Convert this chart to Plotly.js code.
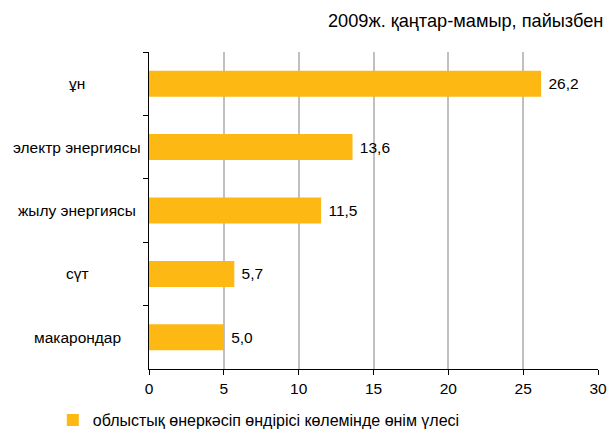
<!DOCTYPE html>
<html>
<head>
<meta charset="utf-8">
<script src="https://cdn.plot.ly/plotly-3.0.1.min.js"></script>
<style>body{margin:0;background:#fff}#chart{width:607px;height:437px}</style>
</head>
<body>
<div id="chart"></div>
<script>
const categories = ["ұн", "электр энергиясы", "жылу энергиясы", "сүт", "макарондар"];
const values = [26.2, 13.6, 11.5, 5.7, 5.0];
const seriesName = "облыстық өнеркәсіп өндірісі көлемінде өнім үлесі";
const titleText = "2009ж. қаңтар-мамыр, пайызбен";
const xTicks = [0, 5, 10, 15, 20, 25, 30];

const fam = "Liberation Sans, Arial, sans-serif";
const fs = 15.5;

const trace = {
  type: "bar",
  orientation: "h",
  y: categories,
  x: values,
  name: seriesName,
  marker: {color: "#FDB813"},
  texttemplate: " %{x:.1f}",
  textposition: "outside",
  textfont: {family: fam, size: fs, color: "#000"},
  cliponaxis: false,
  showlegend: true,
  hoverinfo: "none"
};

const annotations = categories.map(c => ({
  xref: "paper", yref: "y", x: -0.16, y: c, text: c,
  showarrow: false, xanchor: "center", yanchor: "middle",
  font: {family: fam, size: fs, color: "#000"}
}));
annotations.push({
  xref: "paper", yref: "paper", x: 1.015, y: 1.097, text: titleText,
  showarrow: false, xanchor: "right", yanchor: "middle",
  font: {family: fam, size: 18.2, color: "#000"}
});

const layout = {
  width: 607, height: 437,
  margin: {l: 149, r: 9, t: 52, b: 68},
  paper_bgcolor: "#fff", plot_bgcolor: "#fff",
  font: {family: fam, size: fs, color: "#000"},
  separators: ", ",
  bargap: 0.59,
  xaxis: {
    range: [0, 30], tickvals: xTicks, ticktext: xTicks.map(String),
    showgrid: true, gridcolor: "#C0C0C0", gridwidth: 2,
    zeroline: false, showline: true, linecolor: "#000", linewidth: 1,
    ticks: "outside", ticklen: 5, tickcolor: "#000",
    tickfont: {family: fam, size: fs, color: "#000"},
    automargin: false, fixedrange: true
  },
  yaxis: {
    type: "category", autorange: "reversed",
    showticklabels: false, showgrid: false, zeroline: false,
    showline: true, linecolor: "#000", linewidth: 1,
    ticks: "outside", tickson: "boundaries", ticklen: 5, tickcolor: "#000",
    automargin: false, fixedrange: true
  },
  showlegend: true,
  legend: {
    orientation: "h", xref: "container", yref: "container",
    x: 0.087, y: 0.0, xanchor: "left", yanchor: "bottom",
    font: {family: fam, size: 16, color: "#000"},
    itemwidth: 30, bgcolor: "rgba(0,0,0,0)"
  },
  annotations: annotations
};

Plotly.newPlot("chart", [trace], layout, {displayModeBar: false, staticPlot: true});
</script>
</body>
</html>
